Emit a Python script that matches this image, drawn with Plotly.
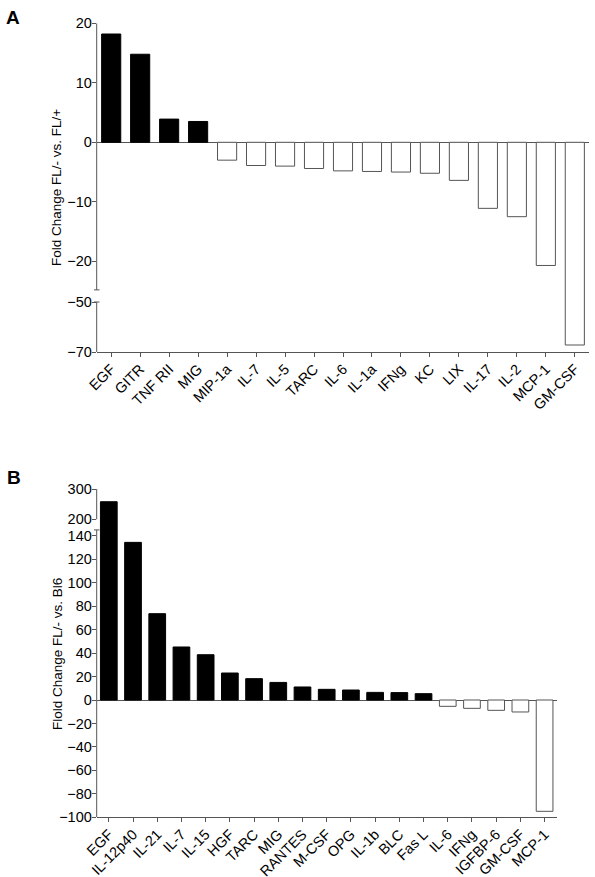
import plotly.graph_objects as go

# ---------------- data ----------------
cats_a = ["EGF", "GITR", "TNF RII", "MIG", "MIP-1a", "IL-7", "IL-5", "TARC", "IL-6",
          "IL-1a", "IFNg", "KC", "LIX", "IL-17", "IL-2", "MCP-1", "GM-CSF"]
vals_a = [18.2, 14.8, 3.9, 3.5, -3.0, -3.9, -4.0, -4.4, -4.8, -4.9, -5.0, -5.2, -6.4,
          -11.1, -12.5, -20.7, -67.2]

cats_b = ["EGF", "IL-12p40", "IL-21", "IL-7", "IL-15", "HGF", "TARC", "MIG", "RANTES",
          "M-CSF", "OPG", "IL-1b", "BLC", "Fas L", "IL-6", "IFNg", "IGFBP-6", "GM-CSF", "MCP-1"]
vals_b = [258, 134.4, 73.6, 45.2, 38.6, 23.0, 18.2, 15.0, 11.1, 9.1, 8.5, 6.5, 6.3, 5.4,
          -5.4, -7.1, -8.8, -10.2, -94.9]

ticks_a_upper = [-20, -10, 0, 10, 20]
ticks_a_lower = [-70, -50]
ticks_b_upper = [200, 300]
ticks_b_lower = [-100, -80, -60, -40, -20, 0, 20, 40, 60, 80, 100, 120, 140]

title_a = "Fold Change FL/- vs. FL/+"
title_b = "Flold Change FL/- vs. Bl6"

# ---------------- style ----------------
W, H = 595, 877
FONT = "Liberation Sans, Arial, sans-serif"
AX = "#555555"


def fx(px):
    return px / W


def fy(px):
    return 1 - px / H


def fills(vals):
    return ["black" if v >= 0 else "white" for v in vals]


def edges(vals):
    return ["black" if v >= 0 else AX for v in vals]


fig = go.Figure()

# panel A: same bars in upper and lower segment of the broken axis
for ya in ["y", "y2"]:
    fig.add_trace(go.Bar(x=cats_a, y=vals_a, xaxis="x", yaxis=ya, width=0.66,
                         marker=dict(color=fills(vals_a),
                                     line=dict(color=edges(vals_a), width=1)),
                         showlegend=False, hoverinfo="x+y"))
# panel B
for yb in ["y3", "y4"]:
    fig.add_trace(go.Bar(x=cats_b, y=vals_b, xaxis="x2", yaxis=yb, width=0.69,
                         marker=dict(color=fills(vals_b),
                                     line=dict(color=edges(vals_b), width=1)),
                         showlegend=False, hoverinfo="x+y"))

tickfont = dict(family=FONT, size=14.5, color="black")
xcommon = dict(type="category", showgrid=False, zeroline=False, showline=True,
               linecolor=AX, linewidth=1, ticks="outside", ticklen=4, tickcolor=AX,
               tickangle=-45, tickfont=tickfont, fixedrange=True, automargin=False,
               ticklabelstandoff=-2)
ycommon = dict(showgrid=False, showline=False, ticks="outside", ticklen=4,
               tickcolor=AX, tickfont=tickfont, tickmode="array", fixedrange=True,
               zerolinecolor=AX, zerolinewidth=1, automargin=False,
               ticklabelstandoff=-3)

fig.update_layout(
    template="none",
    width=W, height=H,
    margin=dict(l=0, r=0, t=0, b=0, pad=0, autoexpand=False),
    paper_bgcolor="white", plot_bgcolor="white",
    xaxis=dict(xcommon, domain=[fx(96.7), fx(589.3)], anchor="y2", range=[-0.5, 16.5]),
    yaxis=dict(ycommon, domain=[fy(296), fy(23.3)], anchor="x", range=[-25.83, 20],
               tickvals=ticks_a_upper, zeroline=True),
    yaxis2=dict(ycommon, domain=[fy(352), fy(296)], anchor="x", range=[-70, -47.6],
                tickvals=ticks_a_lower, zeroline=False),
    xaxis2=dict(xcommon, domain=[fx(96.7), fx(556.7)], anchor="y4", range=[-0.5, 18.5]),
    yaxis3=dict(ycommon, domain=[fy(525), fy(489)], anchor="x2", range=[181.2, 300],
                tickvals=ticks_b_upper, zeroline=False),
    yaxis4=dict(ycommon, domain=[fy(817.3), fy(525)], anchor="x2", range=[-100, 149.2],
                tickvals=ticks_b_lower, zeroline=True),
)

# broken y-axis lines (segments with end caps)
lw = dict(color=AX, width=1)
xa = fx(96.7)
shapes = [
    dict(type="line", xref="paper", yref="y", x0=xa, x1=xa, y0=-24.8, y1=20, line=lw),
    dict(type="line", xref="paper", yref="y", x0=fx(94), x1=fx(99.5), y0=-24.8, y1=-24.8, line=lw),
    dict(type="line", xref="paper", yref="y2", x0=xa, x1=xa, y0=-70, y1=-50, line=lw),
    dict(type="line", xref="paper", yref="y2", x0=fx(94), x1=fx(99.5), y0=-50, y1=-50, line=lw),
    dict(type="line", xref="paper", yref="y3", x0=xa, x1=xa, y0=200, y1=300, line=lw),
    dict(type="line", xref="paper", yref="y4", x0=xa, x1=xa, y0=-100, y1=145, line=lw),
    dict(type="line", xref="paper", yref="y4", x0=fx(94), x1=fx(99.5), y0=145, y1=145, line=lw),
]
fig.update_layout(shapes=shapes)

annots = [
    dict(text="<b>A</b>", x=fx(4), y=fy(5), xref="paper", yref="paper",
         xanchor="left", yanchor="top", showarrow=False,
         font=dict(family=FONT, size=19, color="black")),
    dict(text="<b>B</b>", x=fx(5), y=fy(465), xref="paper", yref="paper",
         xanchor="left", yanchor="top", showarrow=False,
         font=dict(family=FONT, size=19, color="black")),
    dict(text=title_a, x=fx(57), y=fy(188), xref="paper", yref="paper",
         xanchor="center", yanchor="middle", textangle=-90, showarrow=False,
         font=dict(family=FONT, size=13.5, color="black")),
    dict(text=title_b, x=fx(57), y=fy(654), xref="paper", yref="paper",
         xanchor="center", yanchor="middle", textangle=-90, showarrow=False,
         font=dict(family=FONT, size=13.5, color="black")),
]
fig.update_layout(annotations=annots)

fig.write_html("out.html", config={"displayModeBar": False},
               post_script="document.body.style.margin='0px';document.body.style.overflow='hidden';")
